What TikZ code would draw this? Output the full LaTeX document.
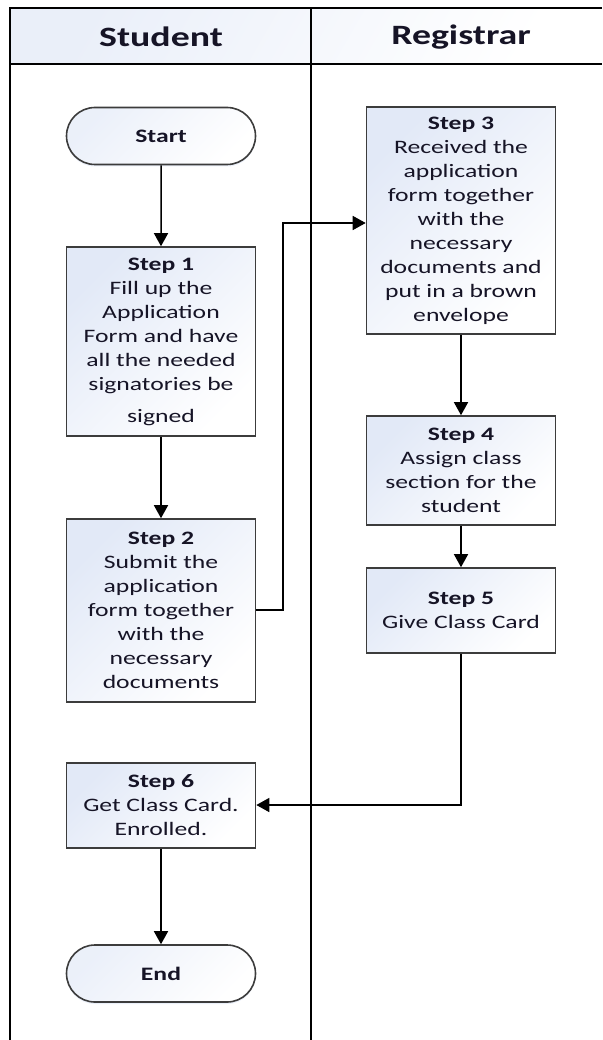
\documentclass[tikz,border=0pt]{standalone}
\usepackage{fontspec}
\setmainfont{Carlito}[FakeStretch=1.35]
\usetikzlibrary{arrows.meta,shapes.misc,shadows}
\definecolor{boxtint}{RGB}{226,233,247}
\definecolor{headtint}{RGB}{234,239,249}
\definecolor{edge}{RGB}{60,60,60}
\definecolor{ink}{RGB}{22,20,38}
\tikzset{
  lane/.style={draw=black, line width=1.4pt},
  stepbox/.style={rectangle, draw=edge, line width=1.6pt,
    top color=boxtint, bottom color=white, shading angle=45,
    minimum width=189pt, inner sep=0pt, align=center, text=ink,
    font=\fontsize{19}{24}\selectfont},
  terminal/.style={rounded rectangle, draw=edge, line width=1.6pt,
    top color=boxtint!70, bottom color=white, shading angle=45,
    minimum width=189pt, minimum height=57pt, inner sep=0pt, text=ink,
    font=\fontsize{19}{24}\selectfont\bfseries,
    drop shadow={shadow xshift=0pt, shadow yshift=-2pt, fill=boxtint, opacity=0.7}},
  header/.style={font=\fontsize{28}{32}\selectfont\bfseries, text=ink},
  flow/.style={draw=black, line width=1.5pt, -{Triangle[length=13pt,width=14pt]}}
}
\begin{document}
\begin{tikzpicture}[x=1pt,y=-1pt]
\useasboundingbox (0,0) rectangle (602,1040);
% header band
\shade[top color=headtint, bottom color=white, shading angle=60] (10,8) rectangle (602,64);
\draw[lane] (10,1040) -- (10,8) -- (602,8);
\draw[lane] (10,64) -- (602,64);
\draw[lane] (311,8) -- (311,1040);
\node[header] (hstud) at (161,37) {Student};
\node[header] (hreg) at (461,37) {Registrar};

% student lane
\node[terminal] (start) at (161,136) {Start};
\node[stepbox, minimum height=189pt] (s1) at (161,341.5)
  {\textbf{Step 1}\\Fill up the\\Application\\Form and have\\all the needed\\signatories be\\[8pt]signed};
\node[stepbox, minimum height=183pt] (s2) at (161,610.5)
  {\textbf{Step 2}\\Submit the\\application\\form together\\with the\\necessary\\documents};
\node[stepbox, minimum height=85pt] (s6) at (161,805.5)
  {\textbf{Step 6}\\Get Class Card.\\Enrolled.};
\node[terminal] (end) at (161,973.5) {End};

% registrar lane
\node[stepbox, minimum height=227pt] (s3) at (461,220.5)
  {\textbf{Step 3}\\Received the\\application\\form together\\with the\\necessary\\documents and\\put in a brown\\envelope};
\node[stepbox, minimum height=109pt] (s4) at (461,470.5)
  {\textbf{Step 4}\\Assign class\\section for the\\student};
\node[stepbox, minimum height=85pt] (s5) at (461,610.5)
  {\textbf{Step 5}\\Give Class Card};

% connectors
\coordinate (bendA) at (283,610);
\coordinate (bendB) at (283,223);
\coordinate (bendC) at (461,805);
\draw[flow] (start) -- (s1);
\draw[flow] (s1) -- (s2);
\draw[flow] (s2.east |- bendA) -- (bendA) -- (bendB) -- (s3.west |- bendB);
\draw[flow] (s3) -- (s4);
\draw[flow] (s4) -- (s5);
\draw[flow] (s5) -- (bendC) -- (s6.east |- bendC);
\draw[flow] (s6) -- (end);
\end{tikzpicture}
\end{document}
